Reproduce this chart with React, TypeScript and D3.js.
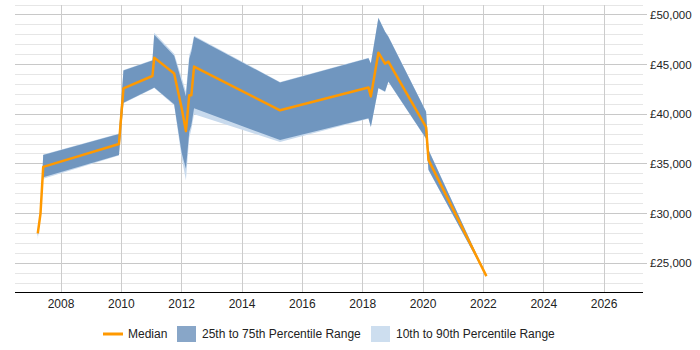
import React from 'react';
import * as d3 from 'd3';

// decimal years of each sample
const years = [
  2007.23, 2007.32, 2007.41, 2009.92, 2010.07, 2011.03, 2011.09, 2011.75, 2012.0, 2012.14,
  2012.25, 2012.32, 2012.41, 2015.26, 2018.19, 2018.27, 2018.52, 2018.74, 2018.85, 2020.1,
  2020.18, 2022.1
];
const p10 = [
  27400, 29700, 33500, 35850, 41100, 42550, 42650, 40900, 35600, 33350,
  37600, 38500, 40000, 37200, 39550, 38700, 42600, 42250, 43250, 37500,
  34350, 23650
];
const p25 = [
  27700, 29900, 33650, 35900, 41150, 42600, 42700, 41000, 36100, 34500,
  38200, 38900, 40600, 37400, 39600, 38750, 42650, 42300, 43300, 37550,
  34400, 23650
];
const median = [
  28000, 30000, 34700, 37000, 42600, 43850, 45700, 44100, 40600, 38300,
  41900, 41900, 44800, 40400, 42700, 41800, 46200, 45100, 45300, 38700,
  35400, 23700
];
const p75 = [
  28100, 30100, 35900, 38000, 44400, 45400, 48000, 45900, 43300, 41800,
  45600, 46300, 47800, 43200, 45650, 45100, 49700, 48300, 47800, 40250,
  36400, 23750
];
const p90 = [
  28200, 30200, 35950, 38050, 44450, 45450, 48200, 46100, 43700, 42300,
  46000, 46600, 47900, 43250, 45700, 45150, 49750, 48350, 47850, 40300,
  36450, 23750
];

const xTicks = [2008, 2010, 2012, 2014, 2016, 2018, 2020, 2022, 2024, 2026];
const yMajor = [25000, 30000, 35000, 40000, 45000, 50000];

const legendItems = ['Median', '25th to 75th Percentile Range', '10th to 90th Percentile Range'];

const COLORS = {
  median: '#ff9900',
  inner: '#7096bf',
  outer: '#c8daed',
  innerLegend: '#88a6c8',
  outerLegend: '#cddeef'
};

const FONT = '"Liberation Sans", Arial, sans-serif';

const App: React.FC = () => {
  const width = 700;
  const height = 350;
  const plot = { left: 15, right: 643, top: 5, bottom: 292 };

  const x = d3.scaleLinear().domain([2006.475, 2027.29]).range([plot.left, plot.right]);
  const y = d3.scaleLinear().domain([22100, 51000]).range([plot.bottom, plot.top]);

  const yMinor = d3.range(23000, 51001, 1000).filter(v => v % 5000 !== 0);

  const idx = d3.range(years.length);
  const outerArea = d3.area<number>()
    .x(i => x(years[i]))
    .y0(i => y(p10[i]))
    .y1(i => y(p90[i]));
  const innerArea = d3.area<number>()
    .x(i => x(years[i]))
    .y0(i => y(p25[i]))
    .y1(i => y(p75[i]));
  const medianLine = d3.line<number>()
    .x(i => x(years[i]))
    .y(i => y(median[i]));

  // legend row
  const ly = 334;

  return (
    <svg
      width={width}
      height={height}
      style={{ position: 'absolute', left: 0, top: 0, fontFamily: FONT }}
    >
      <rect width={width} height={height} fill="#ffffff" />

      {/* minor horizontal grid */}
      {yMinor.map(v => (
        <line key={'m' + v} x1={plot.left} x2={plot.right} y1={y(v)} y2={y(v)}
          stroke="#e6e6e6" strokeWidth={1} shapeRendering="crispEdges" />
      ))}
      {/* major horizontal grid */}
      {yMajor.map(v => (
        <line key={'M' + v} x1={plot.left} x2={plot.right + 4} y1={y(v)} y2={y(v)}
          stroke="#c8c8c8" strokeWidth={1} shapeRendering="crispEdges" />
      ))}
      {/* vertical grid */}
      {xTicks.map(t => (
        <line key={'v' + t} x1={x(t)} x2={x(t)} y1={plot.top} y2={plot.bottom}
          stroke="#cccccc" strokeWidth={1} shapeRendering="crispEdges" />
      ))}

      <path d={outerArea(idx) ?? ''} fill={COLORS.outer} />
      <path d={innerArea(idx) ?? ''} fill={COLORS.inner} />
      <path d={medianLine(idx) ?? ''} fill="none" stroke={COLORS.median} strokeWidth={2.5}
        strokeLinejoin="round" />

      {/* x axis */}
      <line x1={plot.left} x2={plot.right} y1={plot.bottom} y2={plot.bottom}
        stroke="#000" strokeWidth={1} shapeRendering="crispEdges" />
      {xTicks.map(t => (
        <text key={'xl' + t} x={x(t)} y={308} textAnchor="middle" fontSize={12} fill="#222">
          {t}
        </text>
      ))}

      {/* y axis labels on right */}
      {yMajor.map(v => (
        <text key={'yl' + v} x={650} y={y(v)} dy="0.35em" fontSize={11.5} fill="#222">
          {'£' + d3.format(',')(v)}
        </text>
      ))}

      {/* legend */}
      <line x1={103} x2={123} y1={ly} y2={ly} stroke={COLORS.median} strokeWidth={3} />
      <text x={128} y={ly} dy="0.35em" fontSize={12} fill="#222">{legendItems[0]}</text>
      <rect x={177} y={ly - 8} width={19} height={16} fill={COLORS.innerLegend} />
      <text x={202} y={ly} dy="0.35em" fontSize={12} fill="#222">{legendItems[1]}</text>
      <rect x={371} y={ly - 8} width={19} height={16} fill={COLORS.outerLegend} />
      <text x={396} y={ly} dy="0.35em" fontSize={12} fill="#222">{legendItems[2]}</text>
    </svg>
  );
};

export default App;
